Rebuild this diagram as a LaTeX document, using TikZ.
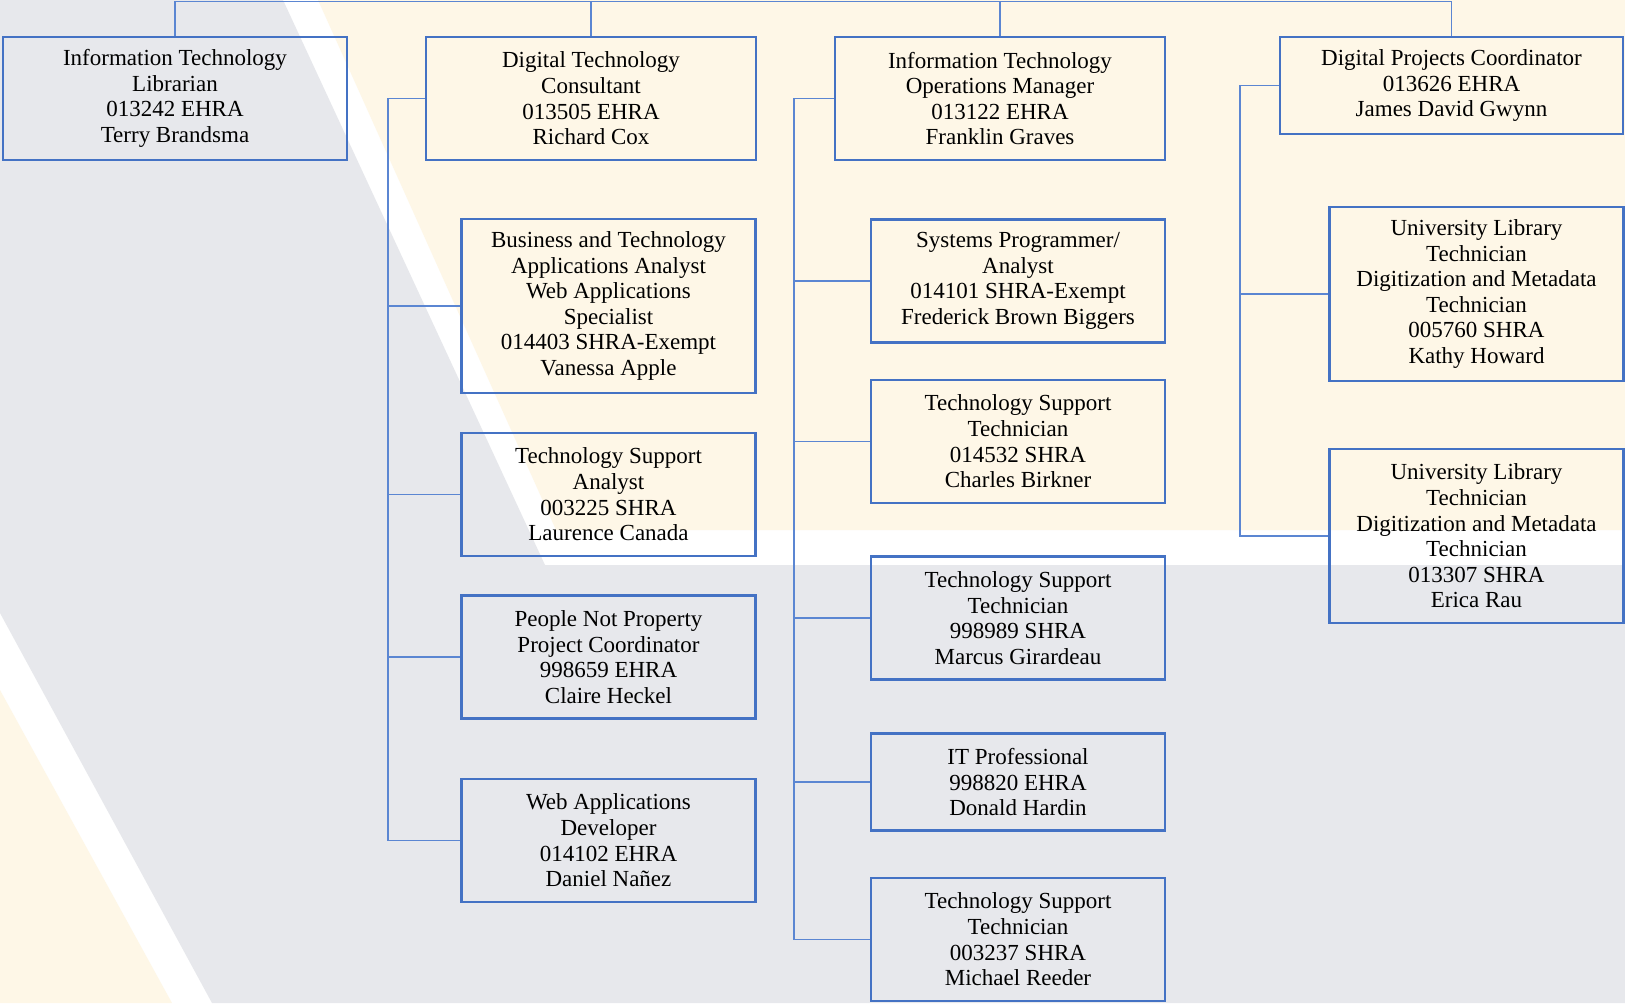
\documentclass[tikz,border=0pt]{standalone}
\usepackage{fontspec}
\setmainfont{Liberation Serif}
\usetikzlibrary{positioning}
\definecolor{boxblue}{HTML}{4472C4}
\definecolor{linkblue}{HTML}{5B86D2}
\definecolor{greybg}{HTML}{E7E8EC}
\definecolor{creambg}{HTML}{FEF7E7}

\begin{document}
\begin{tikzpicture}[x=0.5pt, y=-0.5pt,
  post/.style={draw=boxblue, line width=1.1pt, align=center, inner sep=0pt,
    font=\fontsize{11.5}{12.8}\selectfont, minimum height=61.5pt},
  head/.style={post, minimum width=165pt},
  staff/.style={post, minimum width=147pt},
  tall/.style={minimum height=87pt},
  short/.style={minimum height=48.5pt},
  link/.style={draw=linkblue, line width=0.65pt}]
\useasboundingbox (0,0) rectangle (1625,1003);
\fill[white] (0,0) rectangle (1625,1003);
\fill[greybg] (0,0) -- (283,0) -- (545,565) -- (1625,565) -- (1625,1003) -- (212,1003) -- (0,613) -- cycle;
\fill[creambg] (318,0) -- (1625,0) -- (1625,530) -- (556,530) -- cycle;
\fill[creambg] (0,690) -- (172,1003) -- (0,1003) -- cycle;

\node (lib) [post, minimum width=172pt] at (175,98.5) {Information Technology\\Librarian\\013242 EHRA\\Terry Brandsma};
\node (dtc) [head] at (591,98.5) {Digital Technology\\Consultant\\013505 EHRA\\Richard Cox};
\node (itom) [head] at (1000,98.5) {Information Technology\\Operations Manager\\013122 EHRA\\Franklin Graves};
\node (dpc) [post, short, minimum width=171.5pt] at (1451.5,85.5) {Digital Projects Coordinator\\013626 EHRA\\James David Gwynn};

\node (bta) [staff, tall] at (608.5,306) {Business and Technology\\Applications Analyst\\Web Applications\\Specialist\\014403 SHRA-Exempt\\Vanessa Apple};
\node (tsa) [staff] at (608.5,494.5) {Technology Support\\Analyst\\003225 SHRA\\Laurence Canada};
\node (pnp) [staff] at (608.5,657) {People Not Property\\Project Coordinator\\998659 EHRA\\Claire Heckel};
\node (wad) [staff] at (608.5,840.5) {Web Applications\\Developer\\014102 EHRA\\Daniel Nañez};

\node (spa) [staff] at (1018,281) {Systems Programmer/\\Analyst\\014101 SHRA-Exempt\\Frederick Brown Biggers};
\node (tst1) [staff] at (1018,441.5) {Technology Support\\Technician\\014532 SHRA\\Charles Birkner};
\node (tst2) [staff] at (1018,618) {Technology Support\\Technician\\998989 SHRA\\Marcus Girardeau};
\node (itp) [staff, short] at (1018,782) {IT Professional\\998820 EHRA\\Donald Hardin};
\node (tst3) [staff] at (1018,939.5) {Technology Support\\Technician\\003237 SHRA\\Michael Reeder};

\node (ult1) [staff, tall] at (1476.5,294) {University Library\\Technician\\Digitization and Metadata\\Technician\\005760 SHRA\\Kathy Howard};
\node (ult2) [staff, tall] at (1476.5,536) {University Library\\Technician\\Digitization and Metadata\\Technician\\013307 SHRA\\Erica Rau};

\coordinate (bar) at (0,1.5);
\coordinate (s2) at (388,0);
\coordinate (s3) at (794,0);
\coordinate (s4) at (1240,0);
\draw[link] (lib.north) |- (bar -| dpc.north) -- (dpc.north);
\draw[link] (dtc.north) -- (dtc.north |- bar);
\draw[link] (itom.north) -- (itom.north |- bar);

\draw[link] (dtc.west) -| (s2 |- wad.west) -- (wad.west);
\draw[link] (bta.west) -- (bta.west -| s2);
\draw[link] (tsa.west) -- (tsa.west -| s2);
\draw[link] (pnp.west) -- (pnp.west -| s2);

\draw[link] (itom.west) -| (s3 |- tst3.west) -- (tst3.west);
\draw[link] (spa.west) -- (spa.west -| s3);
\draw[link] (tst1.west) -- (tst1.west -| s3);
\draw[link] (tst2.west) -- (tst2.west -| s3);
\draw[link] (itp.west) -- (itp.west -| s3);

\draw[link] (dpc.west) -| (s4 |- ult2.west) -- (ult2.west);
\draw[link] (ult1.west) -- (ult1.west -| s4);
\end{tikzpicture}
\end{document}
